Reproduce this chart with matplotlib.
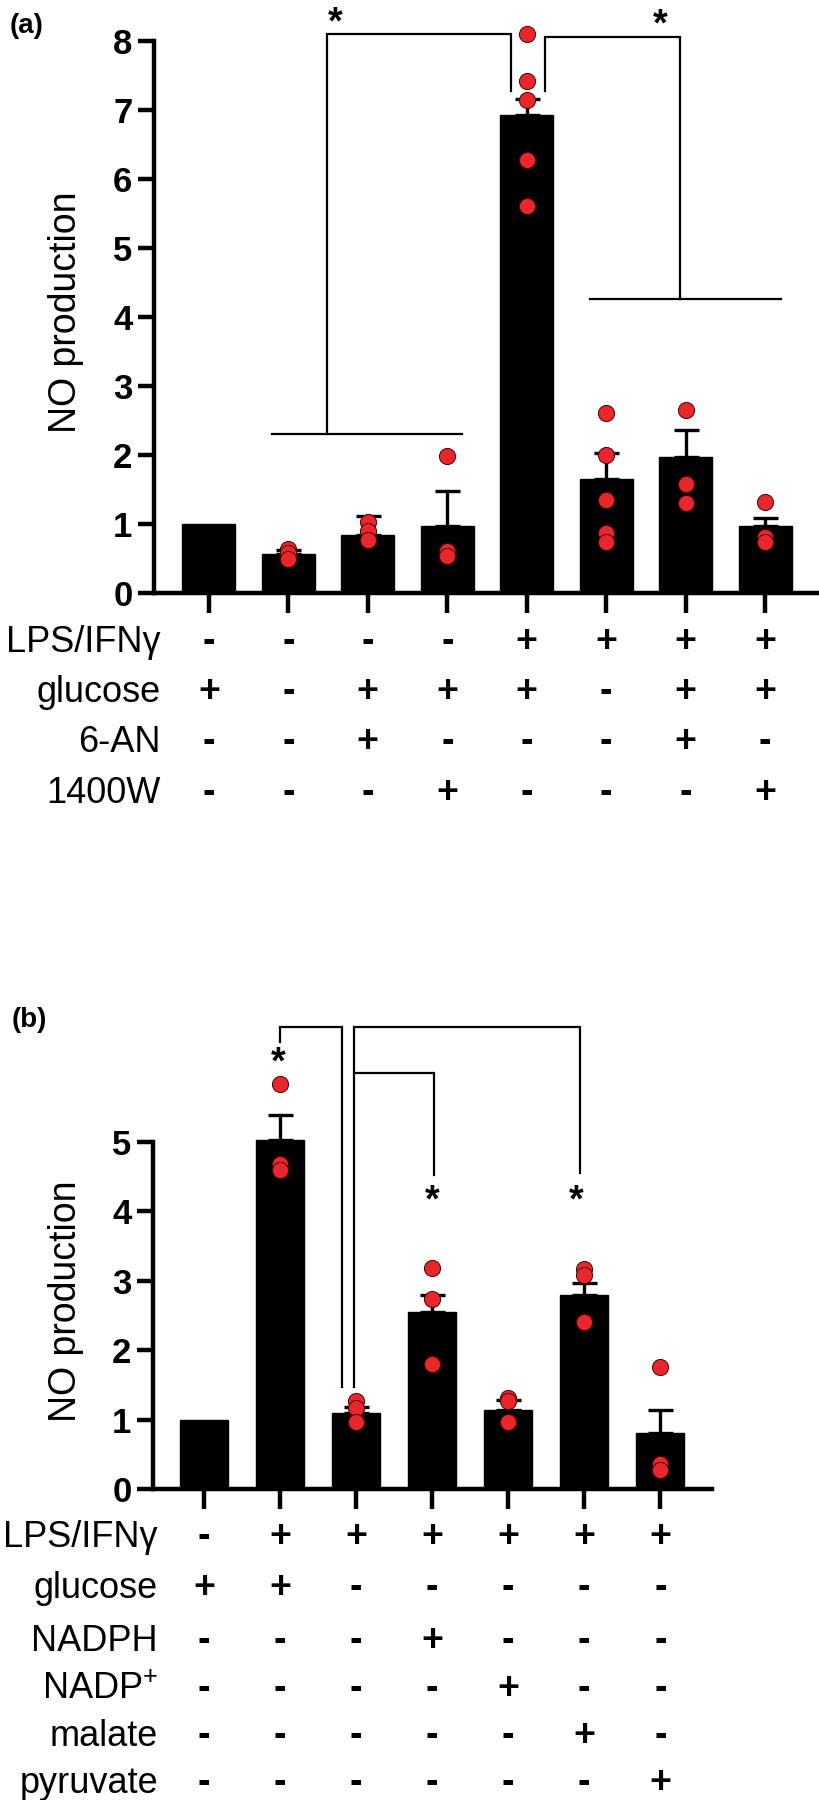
import numpy as np
import matplotlib
matplotlib.use('Agg')
import matplotlib.pyplot as plt
import matplotlib.transforms as mtransforms

plt.rcParams['font.family'] = ['Liberation Sans', 'DejaVu Sans']
plt.rcParams['mathtext.fontset'] = 'custom'
plt.rcParams['mathtext.rm'] = 'Liberation Sans'

W, H = 820, 1800
RED = '#e8262b'

# ---- panel (a) data ----
a_means = [1.0, 0.57, 0.85, 0.98, 6.93, 1.65, 1.98, 0.97]
a_errs = [0.0, 0.06, 0.27, 0.50, 0.24, 0.38, 0.39, 0.12]
a_points = [[], [0.64, 0.58, 0.50], [1.03, 0.90, 0.77], [1.99, 0.61, 0.54],
            [8.10, 7.42, 7.15, 6.28, 5.61], [2.62, 2.00, 1.35, 0.87, 0.74],
            [2.66, 1.59, 1.31], [1.32, 0.81, 0.74]]
a_rows = ['LPS/IFNγ', 'glucose', '6-AN', '1400W']
a_table = [['-', '-', '-', '-', '+', '+', '+', '+'],
           ['+', '-', '+', '+', '+', '-', '+', '+'],
           ['-', '-', '+', '-', '-', '-', '+', '-'],
           ['-', '-', '-', '+', '-', '-', '-', '+']]

# ---- panel (b) data ----
b_means = [1.0, 5.02, 1.10, 2.55, 1.14, 2.80, 0.80]
b_errs = [0.0, 0.36, 0.08, 0.25, 0.14, 0.16, 0.34]
b_points = [[], [5.83, 4.68, 4.59], [1.26, 1.16, 0.97], [3.18, 2.73, 1.80],
            [1.31, 1.26, 0.97], [3.17, 3.08, 2.40], [1.75, 0.36, 0.27]]
b_rows = ['LPS/IFNγ', 'glucose', 'NADPH', 'NADP$^{+}$', 'malate', 'pyruvate']
b_table = [['-', '+', '+', '+', '+', '+', '+'],
           ['+', '+', '-', '-', '-', '-', '-'],
           ['-', '-', '-', '+', '-', '-', '-'],
           ['-', '-', '-', '-', '+', '-', '-'],
           ['-', '-', '-', '-', '-', '+', '-'],
           ['-', '-', '-', '-', '-', '-', '+']]


def draw_bars(ax, means, errs, points, width, spine_top, yticks):
    x = np.arange(len(means))
    ax.bar(x, means, width=width, color='black', edgecolor='black', zorder=2)
    idx = [i for i in range(len(errs)) if errs[i] > 0]
    ax.errorbar([x[i] for i in idx], [means[i] for i in idx],
                yerr=[[0] * len(idx), [errs[i] for i in idx]],
                fmt='none', ecolor='black', elinewidth=2.4, capsize=9,
                capthick=2.4, zorder=3)
    for i, pts in enumerate(points):
        if pts:
            ax.scatter([i] * len(pts), pts, s=135, color=RED,
                       edgecolors='#4a0000', linewidths=0.7, zorder=4,
                       clip_on=False)
    for s in ['top', 'right']:
        ax.spines[s].set_visible(False)
    ax.spines['left'].set_bounds(0, spine_top)
    ax.spines['left'].set_linewidth(3.2)
    ax.spines['bottom'].set_linewidth(3.2)
    ax.set_yticks(yticks)
    ax.set_xticks(x)
    ax.tick_params(axis='y', direction='out', length=11.5, width=3.2,
                   labelsize=25, pad=4)
    ax.tick_params(axis='x', direction='out', length=14.4, width=3.2,
                   labelbottom=False)
    for lbl in ax.get_yticklabels():
        lbl.set_fontweight('bold')


def bracket(ax, xs, ys):
    ax.plot(xs, ys, color='black', lw=1.6, zorder=5, clip_on=False,
            solid_joinstyle='miter')


def star(ax, x, y):
    ax.text(x, y, '*', ha='center', va='baseline', fontsize=27,
            fontweight='bold', clip_on=False)


def table(ax, rows, signs, baselines, label_right):
    tr = mtransforms.blended_transform_factory(ax.transData, fig.transFigure)
    for name, row, yb in zip(rows, signs, baselines):
        yf = 1 - yb / H
        fig.text(label_right / W, yf, name, ha='right', va='baseline',
                 fontsize=26)
        for i, s in enumerate(row):
            ax.text(i, yf, s, transform=tr, ha='center', va='baseline',
                    fontsize=27, fontweight='bold')


fig = plt.figure(figsize=(W / 100, H / 100), dpi=100)

# ---------------- panel (a) ----------------
ax_a = fig.add_axes([154 / W, 1 - 593.3 / H, 666 / W, 593.3 / H])
ax_a.set_xlim(-0.69, 7.69)
ax_a.set_ylim(0, 8.6)
draw_bars(ax_a, a_means, a_errs, a_points, 0.67, 8, range(0, 9))

bracket(ax_a, [0.79, 3.19], [2.31, 2.31])
bracket(ax_a, [1.49, 1.49, 3.80, 3.80], [2.31, 8.10, 8.10, 7.28])
bracket(ax_a, [4.23, 4.23, 5.93, 5.93], [7.28, 8.07, 8.07, 4.26])
bracket(ax_a, [4.79, 7.20], [4.26, 4.26])
star(ax_a, 1.59, 8.12)
star(ax_a, 5.68, 8.09)

fig.text(66 / W, 1 - 312 / H, 'NO production', rotation=90, ha='center',
         va='center', fontsize=27)
fig.text(27 / W, 1 - 26 / H, '(a)', ha='center', va='center', fontsize=20,
         fontweight='bold')
table(ax_a, a_rows, a_table, [652, 702, 752, 803], 161)

# ---------------- panel (b) ----------------
ax_b = fig.add_axes([153 / W, 1 - 1489 / H, 559 / W, 486 / H])
ax_b.set_xlim(-0.67, 6.68)
ax_b.set_ylim(0, 486 / 69.46)
draw_bars(ax_b, b_means, b_errs, b_points, 0.63, 5, range(0, 6))

bracket(ax_b, [1.0, 1.0, 1.82, 1.82], [6.44, 6.65, 6.65, 1.47])
bracket(ax_b, [1.97, 1.97, 4.95, 4.95], [1.47, 6.65, 6.65, 4.55])
bracket(ax_b, [1.97, 3.03, 3.03], [5.99, 5.99, 4.52])
star(ax_b, 0.97, 5.98)
star(ax_b, 3.0, 4.0)
star(ax_b, 4.89, 4.0)

fig.text(66 / W, 1 - 1301 / H, 'NO production', rotation=90, ha='center',
         va='center', fontsize=27)
fig.text(29 / W, 1 - 1020 / H, '(b)', ha='center', va='center', fontsize=20,
         fontweight='bold')
table(ax_b, b_rows, b_table, [1547, 1598, 1651, 1699, 1746, 1793], 158)

fig.savefig('out.png', dpi=100)
